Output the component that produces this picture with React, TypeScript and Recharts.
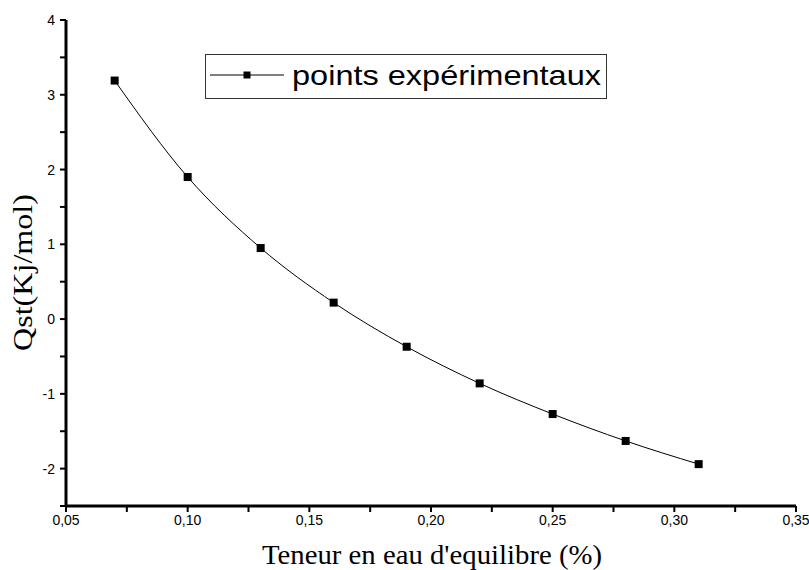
import React from "react";
import { Legend, Line, LineChart, XAxis, YAxis } from "recharts";

// teneur en eau d'equilibre (fraction) vs chaleur isostérique
const teneur = [0.07, 0.1, 0.13, 0.16, 0.19, 0.22, 0.25, 0.28, 0.31];
const qst = [3.19, 1.9, 0.95, 0.22, -0.37, -0.86, -1.27, -1.63, -1.94];

const xTicks = [0.05, 0.075, 0.1, 0.125, 0.15, 0.175, 0.2, 0.225, 0.25, 0.275, 0.3, 0.325, 0.35];
const yTicks = [-2.5, -2, -1.5, -1, -0.5, 0, 0.5, 1, 1.5, 2, 2.5, 3, 3.5, 4];

const seriesName = "points expérimentaux";
const xTitle = "Teneur en eau d'equilibre (%)";
const yTitle = "Qst(Kj/mol)";

const data = teneur.map((x, i) => ({ x, y: qst[i] }));

const tickFont = { fill: "#000", fontSize: 14, fontFamily: "'Liberation Sans', Arial, sans-serif" };

function formatX(v: number) {
  const major = Math.round(v * 1000) % 50 === 0;
  return major ? v.toFixed(2).replace(".", ",") : "";
}

function formatY(v: number) {
  return Number.isInteger(v) ? String(v) : "";
}

function SquareDot(props: any) {
  const { cx, cy, index } = props;
  if (cx == null || cy == null) return <g key={index} />;
  return <rect key={index} x={cx - 4} y={cy - 4} width={8} height={8} fill="#000" />;
}

function LegendBox() {
  return (
    <svg width={402} height={45} style={{ display: "block" }}>
      <rect x={0.5} y={0.5} width={401} height={44} fill="#fff" stroke="#333" strokeWidth={1} />
      <line x1={5} y1={21} x2={79} y2={21} stroke="#000" strokeWidth={1} />
      <rect x={38.5} y={17.5} width={7} height={7} fill="#000" />
      <text
        x={87}
        y={31}
        fontSize={28}
        fontFamily="'Liberation Sans', Arial, sans-serif"
        fill="#000"
        textLength={309}
        lengthAdjust="spacingAndGlyphs"
      >
        {seriesName}
      </text>
    </svg>
  );
}

export default function App() {
  return (
    <div style={{ position: "absolute", left: 0, top: 0, background: "#fff" }}>
      <LineChart width={809} height={570} data={data} margin={{ top: 20, right: 13, bottom: 0, left: 0 }}>
        <XAxis
          dataKey="x"
          type="number"
          domain={[0.05, 0.35]}
          ticks={xTicks}
          interval={0}
          allowDataOverflow
          height={64}
          tickFormatter={formatX}
          tick={tickFont}
          tickSize={6}
          tickMargin={3}
          axisLine={{ stroke: "#000", strokeWidth: 3 }}
          tickLine={{ stroke: "#000", strokeWidth: 2 }}
          label={{
            content: () => (
              <text
                x={262}
                y={564}
                fontSize={27}
                fontFamily="'Liberation Serif', 'Times New Roman', serif"
                fill="#000"
                textLength={340}
                lengthAdjust="spacingAndGlyphs"
              >
                {xTitle}
              </text>
            ),
          }}
        />
        <YAxis
          type="number"
          domain={[-2.5, 4]}
          ticks={yTicks}
          interval={0}
          allowDataOverflow
          width={66}
          tickFormatter={formatY}
          tick={tickFont}
          tickSize={6}
          tickMargin={5}
          axisLine={{ stroke: "#000", strokeWidth: 3 }}
          tickLine={{ stroke: "#000", strokeWidth: 2 }}
          label={{
            content: () => (
              <text
                x={32}
                y={351}
                transform="rotate(-90, 32, 351)"
                fontSize={28}
                fontFamily="'Liberation Serif', 'Times New Roman', serif"
                fill="#000"
                textLength={157}
                lengthAdjust="spacingAndGlyphs"
              >
                {yTitle}
              </text>
            ),
          }}
        />
        <Legend
          layout="horizontal"
          verticalAlign="middle"
          align="center"
          wrapperStyle={{ position: "absolute", left: 205, top: 54, width: 402, height: 45 }}
          content={() => <LegendBox />}
        />
        <Line
          dataKey="y"
          name={seriesName}
          type="monotone"
          stroke="#000"
          strokeWidth={1}
          dot={SquareDot}
          activeDot={false}
          isAnimationActive={false}
        />
      </LineChart>
    </div>
  );
}
